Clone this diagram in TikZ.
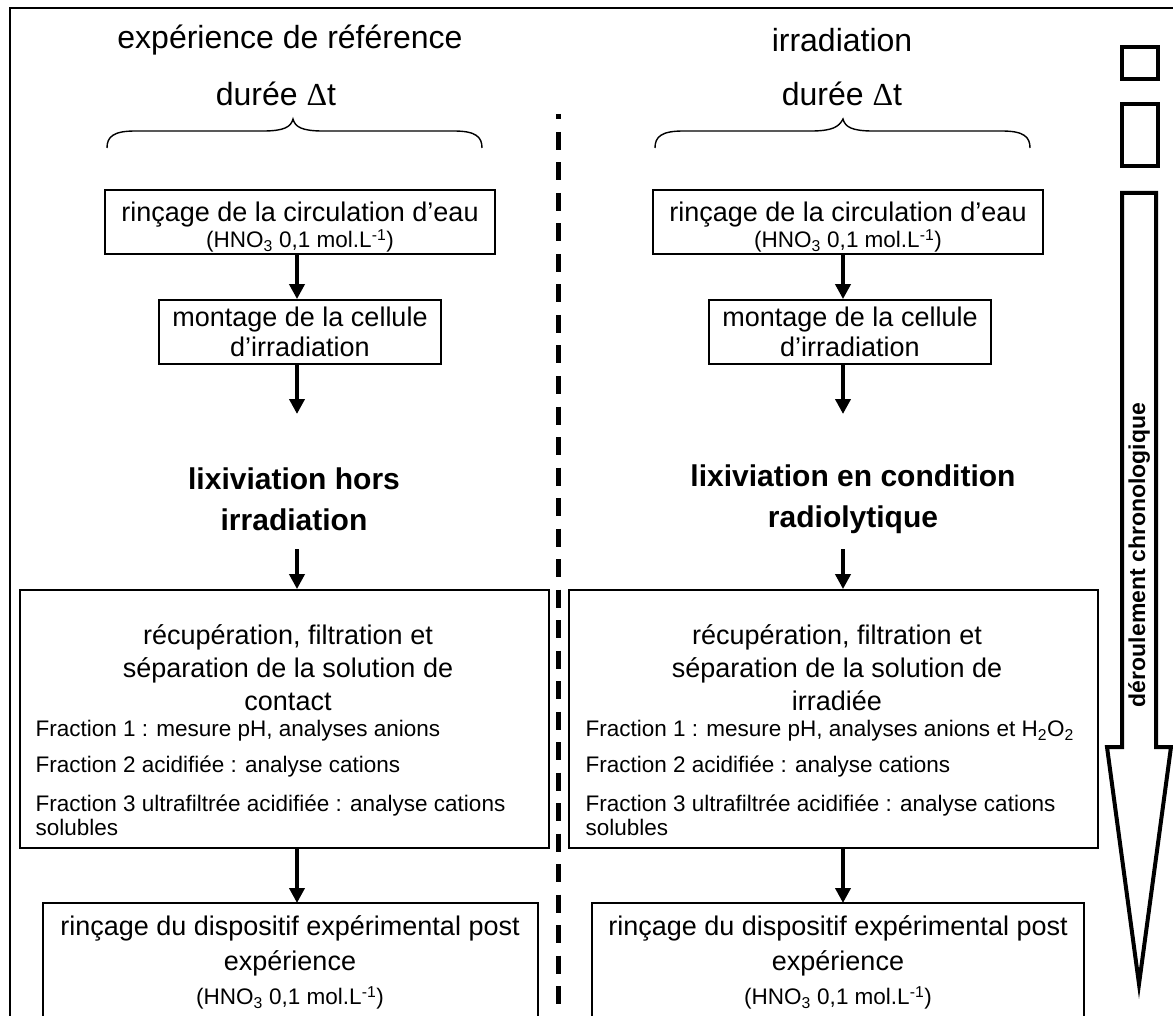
\documentclass[tikz,border=0pt]{standalone}
\usepackage{fontspec}
\setmainfont{Liberation Sans}
\newfontfamily\serifgreek{Liberation Serif}
\usetikzlibrary{arrows.meta}
\begin{document}
\begin{tikzpicture}[x=1pt,y=-1pt,
  box/.style={draw,line width=1.8pt,inner sep=0pt,align=center},
  conn/.style={line width=3.8pt,-{Triangle[length=15pt,width=15pt]}},
  big/.style={font=\fontsize{32}{38}\selectfont},
  mid/.style={font=\fontsize{27}{35}\selectfont,align=center},
  small/.style={font=\fontsize{22.5}{24}\selectfont},
  bold/.style={font=\bfseries\fontsize{30}{41}\selectfont,align=center},
  thick4/.style={line width=4pt}]
\useasboundingbox (0,0) rectangle (1173,1016);
% outer frame
\draw[line width=2pt] (10,1017) -- (10,8) -- (1174,8);
% titles
\node[big] (t1) at (290,40) {expérience de référence};
\node[big] (t2) at (842,40) {irradiation};
\node[big] (d1) at (276,94) {durée {\serifgreek Δ}t};
\node[big] (d2) at (842,94) {durée {\serifgreek Δ}t};
% braces
\draw[line width=1.4pt] (107,148) .. controls (107,137) and (113,131) .. (135,131) -- (263,131) .. controls (284,131) and (291,127) .. (293,119)
  .. controls (295,127) and (302,131) .. (323,131) -- (454,131) .. controls (476,131) and (482,137) .. (482,148);
\draw[line width=1.4pt] (655,148) .. controls (655,137) and (661,131) .. (683,131) -- (811,131) .. controls (832,131) and (839,127) .. (843,119)
  .. controls (845,127) and (852,131) .. (873,131) -- (1002,131) .. controls (1024,131) and (1030,137) .. (1030,148);
% dashed separator
\draw[line width=5pt] (558,114) -- (558,119);
\draw[line width=5pt,dash pattern=on 18pt off 12.5pt] (558,132) -- (558,1016);
% left column
\node[box,minimum width=390pt,minimum height=64pt] (a1) at (300,222) {};
\node[mid] (a1t) at (300,215) {rinçage de la circulation d’eau};
\node[small] (a1s) at (300,241) {(HNO\textsubscript{3} 0,1 mol.L\textsuperscript{-1})};
\node[box,mid,minimum width=282pt,minimum height=64pt,font=\fontsize{27}{30}\selectfont] (a2) at (300,332) {montage de la cellule\\d’irradiation};
\node[bold] (a3) at (294,499) {lixiviation hors\\irradiation};
\node[box,minimum width=529pt,minimum height=258pt] (a4) at (284.5,719) {};
\node[mid,font=\fontsize{27}{33}\selectfont] (a4t) at (288,668) {récupération, filtration et\\séparation de la solution de\\contact};
\node[small,anchor=west] (a4f1) at (32,731) {Fraction 1 : mesure pH, analyses anions};
\node[small,anchor=west] (a4f2) at (32,767) {Fraction 2 acidifiée : analyse cations};
\node[small,anchor=west,align=left] (a4f3) at (32,815) {Fraction 3 ultrafiltrée acidifiée : analyse cations\\solubles};
\draw[box] (43,1020) -- (43,903) -- (538,903) -- (538,1020);
\coordinate (a5) at (297,903);
\node[mid] (a5t) at (290,946) {rinçage du dispositif expérimental post\\expérience};
\node[small] (a5s) at (290,998) {(HNO\textsubscript{3} 0,1 mol.L\textsuperscript{-1})};
% right column
\node[box,minimum width=390pt,minimum height=64pt] (b1) at (848,222) {};
\node[mid] (b1t) at (848,215) {rinçage de la circulation d’eau};
\node[small] (b1s) at (848,241) {(HNO\textsubscript{3} 0,1 mol.L\textsuperscript{-1})};
\node[box,mid,minimum width=282pt,minimum height=64pt,font=\fontsize{27}{30}\selectfont] (b2) at (850,332) {montage de la cellule\\d’irradiation};
\node[bold] (b3) at (853,499) {lixiviation en condition\\radiolytique};
\node[box,minimum width=529pt,minimum height=258pt] (b4) at (833.5,719) {};
\node[mid,font=\fontsize{27}{33}\selectfont] (b4t) at (837,668) {récupération, filtration et\\séparation de la solution de\\irradiée};
\node[small,anchor=west] (b4f1) at (582,731) {Fraction 1 : mesure pH, analyses anions et H\textsubscript{2}O\textsubscript{2}};
\node[small,anchor=west] (b4f2) at (582,767) {Fraction 2 acidifiée : analyse cations};
\node[small,anchor=west,align=left] (b4f3) at (582,815) {Fraction 3 ultrafiltrée acidifiée : analyse cations\\solubles};
\draw[box] (592,1020) -- (592,903) -- (1084,903) -- (1084,1020);
\coordinate (b5) at (843,903);
\node[mid] (b5t) at (838,946) {rinçage du dispositif expérimental post\\expérience};
\node[small] (b5s) at (838,998) {(HNO\textsubscript{3} 0,1 mol.L\textsuperscript{-1})};
% connectors
\coordinate (a3top) at (297,414);
\coordinate (a3bot) at (297,549);
\coordinate (b3top) at (843,414);
\coordinate (b3bot) at (843,549);
\draw[conn] (a1.south -| a5) -- (a2.north -| a5);
\draw[conn] (a2.south -| a5) -- (a3top);
\draw[conn] (a3bot) -- (a4.north -| a5);
\draw[conn] (a4.south -| a5) -- (a5);
\draw[conn] (b1.south -| b5) -- (b2.north -| b5);
\draw[conn] (b2.south -| b5) -- (b3top);
\draw[conn] (b3bot) -- (b4.north -| b5);
\draw[conn] (b4.south -| b5) -- (b5);
% legend squares and big arrow
\node[draw,thick4,minimum width=36pt,minimum height=32pt,inner sep=0pt] (sq1) at (1140,63) {};
\node[draw,thick4,minimum width=36pt,minimum height=62pt,inner sep=0pt] (sq2) at (1140,135) {};
\draw[thick4,line join=miter] (1122,193) -- (1156,193) -- (1156,747) -- (1171,747) -- (1139,984) -- (1107,747) -- (1122,747) -- cycle;
\node[font=\bfseries\fontsize{23}{25}\selectfont,rotate=90] (lab) at (1139,555) {déroulement chronologique};
\end{tikzpicture}
\end{document}
